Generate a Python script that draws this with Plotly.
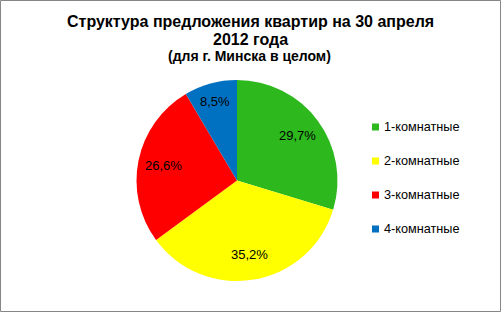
import math
import plotly.graph_objects as go

categories = ["1-комнатные", "2-комнатные", "3-комнатные", "4-комнатные"]
values = [29.7, 35.2, 26.6, 8.5]
value_labels = ["29,7%", "35,2%", "26,6%", "8,5%"]
colors = ["#2DB81E", "#FFFF00", "#FF0000", "#0070C0"]

W, H = 501, 312
def px(x):
    return x / W
def py(y):
    return 1 - y / H

FONT = "Liberation Sans, Arial"
cx, cy, R = 237, 180.5, 100.5

fig = go.Figure()
fig.add_trace(go.Pie(
    labels=categories,
    values=values,
    textinfo="none",
    marker=dict(colors=colors, line=dict(width=0)),
    sort=False,
    direction="clockwise",
    rotation=0,
    domain=dict(x=[px(cx - R), px(cx + R)], y=[py(cy + R), py(cy - R)]),
    showlegend=False,
    text=value_labels,
    hoverinfo="label+text",
))

annotations = [
    dict(text="<b>Структура предложения квартир на 30 апреля</b>", x=px(250), y=py(21.5),
         font=dict(size=16, family=FONT, color="#000")),
    dict(text="<b>2012 года</b>", x=px(250), y=py(39.5),
         font=dict(size=16, family=FONT, color="#000")),
    dict(text="<b>(для г. Минска в целом)</b>", x=px(249), y=py(56),
         font=dict(size=14, family=FONT, color="#000")),
]
for a in annotations:
    a.update(xref="paper", yref="paper", showarrow=False, xanchor="center", yanchor="middle")

# data labels placed at slice mid-angles (derived from values)
total = sum(values)
cum = 0.0
for v, lab in zip(values, value_labels):
    mid = (cum + v / 2) / total * 2 * math.pi
    cum += v
    rr = R * (0.82 if v / total < 0.12 else 0.75)
    lx = cx + rr * math.sin(mid)
    ly = cy - rr * math.cos(mid)
    annotations.append(dict(text=lab, x=px(lx), y=py(ly), xref="paper", yref="paper",
                            showarrow=False, xanchor="center", yanchor="middle",
                            font=dict(size=13, family=FONT, color="#000")))

shapes = [dict(type="rect", xref="paper", yref="paper",
               x0=px(0.5), x1=px(W - 0.5), y0=py(H - 0.5), y1=py(0.5),
               line=dict(color="#868686", width=1), fillcolor="rgba(0,0,0,0)")]

legend_y = [127, 161, 195, 229]
for cat, col, ly in zip(categories, colors, legend_y):
    shapes.append(dict(type="rect", xref="paper", yref="paper",
                       x0=px(372), x1=px(379), y0=py(ly + 3.5), y1=py(ly - 3.5),
                       line=dict(width=0), fillcolor=col))
    annotations.append(dict(text=cat, x=px(382), y=py(ly), xref="paper", yref="paper",
                            showarrow=False, xanchor="left", yanchor="middle",
                            font=dict(size=12.7, family=FONT, color="#000")))

fig.update_layout(
    width=W, height=H,
    margin=dict(l=0, r=0, t=0, b=0),
    paper_bgcolor="#FFFFFF",
    plot_bgcolor="#FFFFFF",
    annotations=annotations,
    shapes=shapes,
)

fig.write_html("out.html")
